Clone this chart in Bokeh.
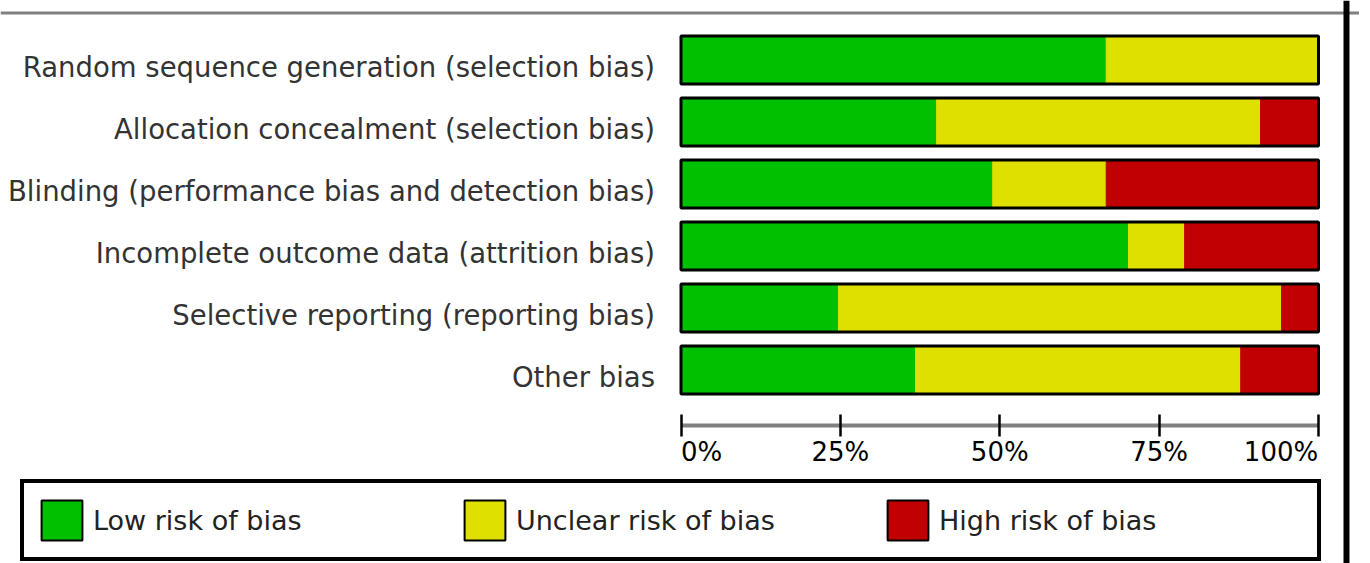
from bokeh.plotting import figure
from bokeh.models import (ColumnDataSource, Range1d, FixedTicker, Legend, LegendItem, Span)
from bokeh.core.properties import value
from bokeh.embed import file_html
from bokeh.resources import INLINE

# ---- data ----
categories = [
    "Random sequence generation (selection bias)",
    "Allocation concealment (selection bias)",
    "Blinding (performance bias and detection bias)",
    "Incomplete outcome data (attrition bias)",
    "Selective reporting (reporting bias)",
    "Other bias",
]
low_risk = [66.7, 40.1, 48.9, 70.2, 24.7, 36.8]
unclear_risk = [33.3, 50.8, 17.8, 8.8, 69.5, 51.0]
high_risk = [0.0, 9.1, 33.3, 21.0, 5.8, 12.2]
series_names = ["Low risk of bias", "Unclear risk of bias", "High risk of bias"]
series_colors = ["#00C000", "#E0E000", "#C00000"]
tick_values = [0, 25, 50, 75, 100]
tick_labels = ["0%", "25%", "50%", "75%", "100%"]

# ---- layout constants (pixels) ----
W, H = 1359, 563
LEFT_PX, RIGHT_PX = 680.5, 1318.0       # where 0% and 100% sit
PPU = (RIGHT_PX - LEFT_PX) / 100.0       # pixels per percent
ROW_PX = 62.0                            # row pitch
AXIS_PX = 425.0                          # axis line from top
TOP_ROW_PX = 59.5                        # centre of first bar from top
RULE_X_PX = 1346.0                       # right-hand black rule
n = len(categories)
Y_END = n + TOP_ROW_PX / ROW_PX
Y_START = Y_END - H / ROW_PX
BAR_H = 48.0 / ROW_PX

ypos = [n - i for i in range(n)]
totals = [a + b + c for a, b, c in zip(low_risk, unclear_risk, high_risk)]
source = ColumnDataSource(dict(y=ypos, cat=categories, low=low_risk, unclear=unclear_risk,
                               high=high_risk, total=totals, zero=[0] * n))

p = figure(width=W, height=H, output_backend="svg", toolbar_location=None,
           x_range=Range1d(-LEFT_PX / PPU, 100 + (W - RIGHT_PX) / PPU),
           y_range=Range1d(Y_START, Y_END),
           y_axis_location=None, x_axis_location="below",
           min_border_left=0, min_border_right=0, min_border_top=0, min_border_bottom=0,
           outline_line_color=None, background_fill_color="white", border_fill_color="white")
p.grid.visible = False

stackers = ["low", "unclear", "high"]
# segments with black outline (used as legend swatches)
bordered = p.hbar_stack(stackers, y="y", height=BAR_H, fill_color=series_colors,
                        line_color="black", line_width=2, source=source)
# same segments, fill only, hiding the inner borders
p.hbar_stack(stackers, y="y", height=BAR_H, color=series_colors, line_width=1, source=source)
# outline of each bar
p.hbar(y="y", left="zero", right="total", height=BAR_H, fill_color=None,
       line_color="black", line_width=3, source=source)

# category labels
p.text(x="zero", y="y", text="cat", source=source, x_offset=-26, y_offset=6.5,
       text_align="right", text_baseline="alphabetic",
       text_font=value("DejaVu Sans"), text_font_size="27.5px", text_color="#333333")

# top grey rule and right black rule
p.add_layout(Span(location=Y_END - 12.5 / ROW_PX, dimension="width",
                  line_color="#808080", line_width=3))
p.add_layout(Span(location=(RULE_X_PX - LEFT_PX) / PPU, dimension="height",
                  line_color="black", line_width=6))

# x axis drawn at a fixed place inside the plot area
ax = p.xaxis[0]
ax.fixed_location = Y_END - AXIS_PX / ROW_PX
ax.ticker = FixedTicker(ticks=tick_values)
ax.bounds = (0, 100)
nb = "\u00a0"
overrides = {v: l for v, l in zip(tick_values, tick_labels)}
overrides[tick_values[0]] = nb * 5 + tick_labels[0]
overrides[tick_values[-1]] = tick_labels[-1] + nb * 5
ax.major_label_overrides = overrides
ax.axis_line_color = "#808080"
ax.axis_line_width = 4
ax.major_tick_line_color = "black"
ax.major_tick_line_width = 2.5
ax.major_tick_in = 11
ax.major_tick_out = 11
ax.minor_tick_line_color = None
ax.major_label_standoff = 0
ax.major_label_text_font = "DejaVu Sans"
ax.major_label_text_font_size = "26px"
ax.major_label_text_color = "black"

legend = Legend(items=[LegendItem(label=nm, renderers=[r]) for nm, r in zip(series_names, bordered)],
                orientation="horizontal", location=(20, 2), margin=0, padding=12, spacing=0,
                glyph_width=51, glyph_height=50, label_standoff=6, label_width=366,
                border_line_color="black", border_line_width=4, border_line_alpha=1,
                background_fill_color="white", background_fill_alpha=1,
                label_text_font="DejaVu Sans", label_text_font_size="27px",
                label_text_color="#222222")
p.add_layout(legend)

open("out.html", "w").write(file_html(p, INLINE))
